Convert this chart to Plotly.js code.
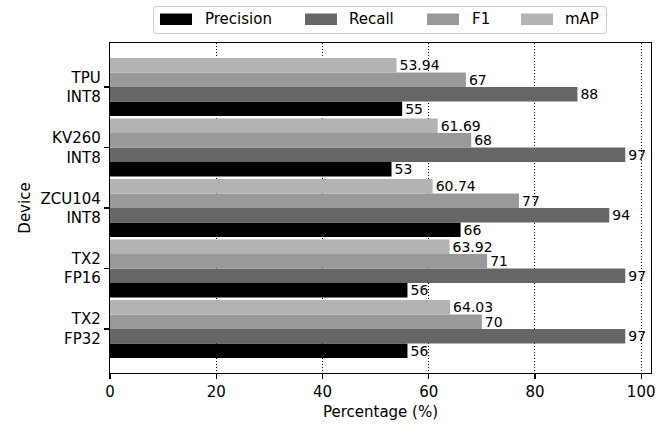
<!DOCTYPE html>
<html>
<head>
<meta charset="utf-8">
<script src="https://cdn.plot.ly/plotly-3.0.1.min.js"></script>
<style>html,body{margin:0;padding:0;background:#fff;}#chart{width:670px;height:427px;}</style>
</head>
<body>
<div id="chart"></div>
<script>
// Devices, top to bottom as shown
const devices = ["TPU<br>INT8", "KV260<br>INT8", "ZCU104<br>INT8", "TX2<br>FP16", "TX2<br>FP32"];
const seriesNames = ["Precision", "Recall", "F1", "mAP"];
const precision = [55, 53, 66, 56, 56];
const recall = [88, 97, 94, 97, 97];
const f1 = [67, 68, 77, 71, 70];
const mAP = [53.94, 61.69, 60.74, 63.92, 64.03];
const xTicks = [0, 20, 40, 60, 80, 100];

const colors = ["#000000", "#666666", "#999999", "#b3b3b3"];
const seriesValues = [precision, recall, f1, mAP];
const FONT = "DejaVu Sans, sans-serif";

const W = 670, H = 427;
const M = {l: 110, r: 19, t: 43, b: 54};
const pw = W - M.l - M.r, ph = H - M.t - M.b;
const px2x = p => (p - M.l) / pw;
const px2y = p => (H - M.b - p) / ph;

const traces = seriesValues.map((vals, i) => ({
  type: "bar",
  orientation: "h",
  name: seriesNames[i],
  y: devices,
  x: vals,
  marker: {color: colors[i], line: {width: 0}},
  text: vals.map(v => String(v)),
  textposition: "outside",
  constraintext: "none",
  cliponaxis: false,
  textfont: {family: FONT, size: 14, color: "#000"},
  hoverinfo: "x+name"
}));

// Legend drawn as shapes + annotations (wide swatches, matplotlib-like box)
const swatchX = [160, 305, 427, 521];
const labelX = [204, 348, 471, 564];
const shapes = [];
const annotations = [];
(function () {
  const x0 = 153.5, x1 = 606.5, y0 = 6.5, y1 = 33.5, r = 3;
  const X = p => px2x(p), Y = p => px2y(p);
  const path = `M${X(x0 + r)},${Y(y0)} L${X(x1 - r)},${Y(y0)} Q${X(x1)},${Y(y0)} ${X(x1)},${Y(y0 + r)} ` +
    `L${X(x1)},${Y(y1 - r)} Q${X(x1)},${Y(y1)} ${X(x1 - r)},${Y(y1)} L${X(x0 + r)},${Y(y1)} ` +
    `Q${X(x0)},${Y(y1)} ${X(x0)},${Y(y1 - r)} L${X(x0)},${Y(y0 + r)} Q${X(x0)},${Y(y0)} ${X(x0 + r)},${Y(y0)} Z`;
  shapes.push({type: "path", xref: "paper", yref: "paper", path: path,
    line: {color: "#cccccc", width: 1}, fillcolor: "rgba(255,255,255,0.8)", layer: "above"});
})();
seriesNames.forEach((n, i) => {
  shapes.push({type: "rect", xref: "paper", yref: "paper",
    x0: px2x(swatchX[i]), x1: px2x(swatchX[i] + 32), y0: px2y(13.5), y1: px2y(25),
    fillcolor: colors[i], line: {width: 0}, layer: "above"});
  annotations.push({xref: "paper", yref: "paper", x: px2x(labelX[i]), y: px2y(19.5),
    xanchor: "left", yanchor: "middle", text: n, showarrow: false, borderpad: 0,
    font: {family: FONT, size: 15, color: "#000"}});
});

const layout = {
  width: W, height: H,
  margin: M,
  paper_bgcolor: "#fff", plot_bgcolor: "#fff",
  font: {family: FONT, size: 15, color: "#000"},
  barmode: "group",
  bargap: 0.04,
  bargroupgap: 0,
  showlegend: false,
  shapes: shapes,
  annotations: annotations,
  xaxis: {
    range: [0, 101.85],
    tickvals: xTicks,
    ticktext: xTicks.map(String),
    showgrid: true, gridcolor: "#000", griddash: "1.2px,1.8px", gridwidth: 1,
    zeroline: false,
    showline: true, mirror: true, linecolor: "#000", linewidth: 1.2,
    ticks: "outside", ticklen: 5, tickcolor: "#000", tickwidth: 1.2,
    tickfont: {family: FONT, size: 15},
    title: {text: "Percentage (%)", font: {family: FONT, size: 15}, standoff: 6}
  },
  yaxis: {
    type: "category",
    categoryorder: "array",
    categoryarray: devices.slice().reverse(),
    range: [-0.728, 4.728],
    showgrid: false, zeroline: false,
    showline: true, mirror: true, linecolor: "#000", linewidth: 1.2,
    ticks: "outside", ticklen: 5, tickcolor: "#000", tickwidth: 1.2,
    tickfont: {family: FONT, size: 15},
    title: {text: "Device", font: {family: FONT, size: 15}, standoff: 6}
  }
};

Plotly.newPlot("chart", traces, layout, {displayModeBar: false, staticPlot: true});
</script>
</body>
</html>
